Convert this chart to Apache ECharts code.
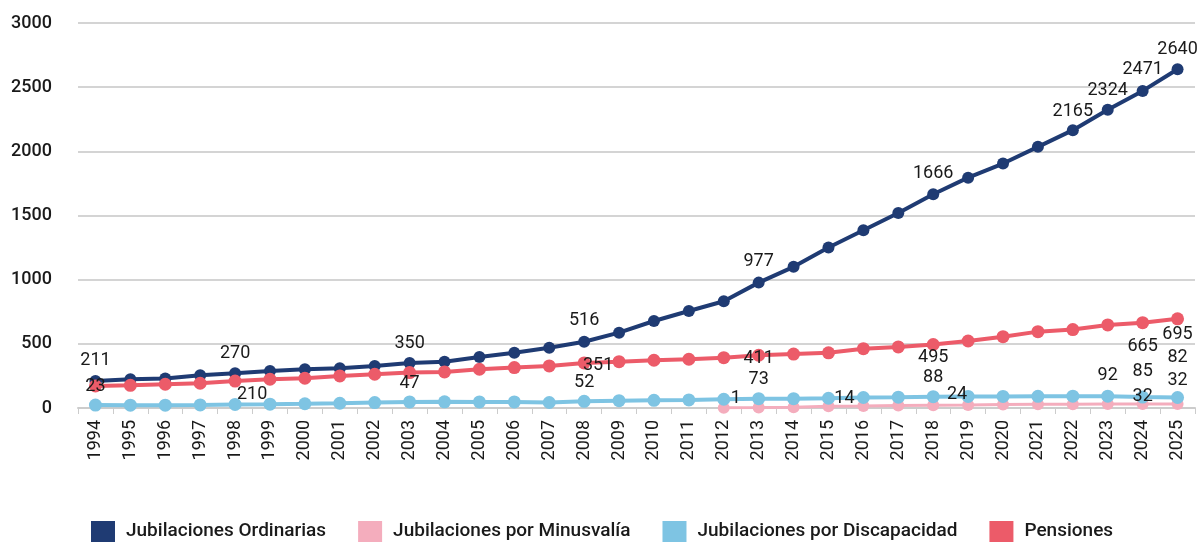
<!DOCTYPE html>
<html style="height: 100%">
<head>
<meta charset="utf-8">
</head>
<body style="height: 100%; margin: 0; background: #fff">
<div id="container" style="width: 1201px; height: 542px;"></div>
<script type="text/javascript" src="https://cdn.jsdelivr.net/npm/echarts@6/dist/echarts.min.js"></script>
<script type="text/javascript">
var years = ['1994','1995','1996','1997','1998','1999','2000','2001','2002','2003','2004','2005','2006','2007','2008','2009','2010','2011','2012','2013','2014','2015','2016','2017','2018','2019','2020','2021','2022','2023','2024','2025'];

var ordinarias = [211,224,229,255,270,289,302,310,328,350,361,398,431,470,516,587,678,756,832,977,1100,1250,1385,1520,1666,1795,1905,2035,2165,2324,2471,2640];
var minusvalia = ['-','-','-','-','-','-','-','-','-','-','-','-','-','-','-','-','-','-',1,3,6,14,16,19,22,24,27,29,30,31,32,32];
var discapacidad = [23,22,22,24,28,30,33,37,42,47,48,47,47,43,52,57,60,63,68,73,73,76,82,84,88,90,90,91,92,92,85,82];
var pensiones = [172,177,185,193,210,224,232,250,263,276,281,302,315,328,351,361,372,380,392,411,420,430,462,476,495,522,556,595,611,647,665,695];

// which points carry a value label, and where it sits (offset from the point)
var labelSpots = {
    ord: { '1994': [0,-20], '1998': [0,-20], '2003': [0,-20], '2008': [0,-21], '2013': [0,-21], '2018': [0,-21], '2022': [0,-19], '2023': [0,-19], '2024': [0,-21], '2025': [0,-20] },
    min: { '2012': [12,-9], '2015': [16,-8], '2019': [-11,-10], '2024': [0,-7], '2025': [0,-23] },
    dis: { '1994': [0,-19], '2003': [0,-18], '2008': [0,-19], '2013': [0,-19], '2018': [0,-19], '2023': [0,-21], '2024': [0,-26], '2025': [0,-40] },
    pen: { '1998': [17,13], '2008': [14,3], '2013': [0,3], '2018': [0,13], '2024': [0,24], '2025': [0,16] }
};

function withLabels(values, spots) {
    return values.map(function (v, i) {
        var off = spots[years[i]];
        if (!off) return v;
        return {
            value: v,
            label: { show: true, position: 'inside', offset: off }
        };
    });
}

var dom = document.getElementById('container');
var myChart = echarts.init(dom);

var labelStyle = {
    show: false,
    color: '#1a1a1a',
    fontSize: 18,
    fontFamily: 'Roboto',
    formatter: '{c}'
};

function makeSeries(name, values, spots, color, width, size) {
    return {
        name: name,
        type: 'line',
        data: withLabels(values, spots),
        symbol: 'circle',
        symbolSize: size,
        lineStyle: { color: color, width: width },
        itemStyle: { color: color },
        label: labelStyle,
        emphasis: { disabled: true }
    };
}

var option = {
    animation: false,
    textStyle: { fontFamily: 'Roboto' },
    grid: { left: 78, right: 6, top: 23, bottom: 134, containLabel: false },
    legend: {
        top: 516,
        left: 86,
        itemWidth: 24,
        itemHeight: 21,
        itemGap: 32,
        icon: 'rect',
        textStyle: { fontSize: 19, color: '#1a1a1a', fontFamily: 'Roboto', fontWeight: 500, padding: [0, 0, 0, 6] },
        data: ['Jubilaciones Ordinarias', 'Jubilaciones por Minusvalía', 'Jubilaciones por Discapacidad', 'Pensiones']
    },
    xAxis: {
        type: 'category',
        data: years,
        boundaryGap: true,
        axisLine: { lineStyle: { color: '#cccccc', width: 2 } },
        axisTick: { show: true, length: 6, lineStyle: { color: '#cccccc' } },
        axisLabel: { rotate: 90, fontSize: 18, color: '#1a1a1a', margin: 12, interval: 0 }
    },
    yAxis: {
        type: 'value',
        min: 0,
        max: 3000,
        interval: 500,
        axisLine: { show: false },
        axisTick: { show: false },
        splitLine: { lineStyle: { color: '#d4d4d4', width: 2 } },
        axisLabel: {
            fontSize: 18, fontWeight: 500, color: '#1a1a1a', margin: 26,
            formatter: function (v) { return String(v); }
        }
    },
    series: [
        makeSeries('Jubilaciones Ordinarias', ordinarias, labelSpots.ord, '#1f3b73', 4, 12),
        makeSeries('Jubilaciones por Minusvalía', minusvalia, labelSpots.min, '#f4adbd', 3, 12),
        makeSeries('Jubilaciones por Discapacidad', discapacidad, labelSpots.dis, '#7ec4e3', 4, 13),
        makeSeries('Pensiones', pensiones, labelSpots.pen, '#ec5b69', 4, 13)
    ]
};

myChart.setOption(option);
</script>
</body>
</html>
